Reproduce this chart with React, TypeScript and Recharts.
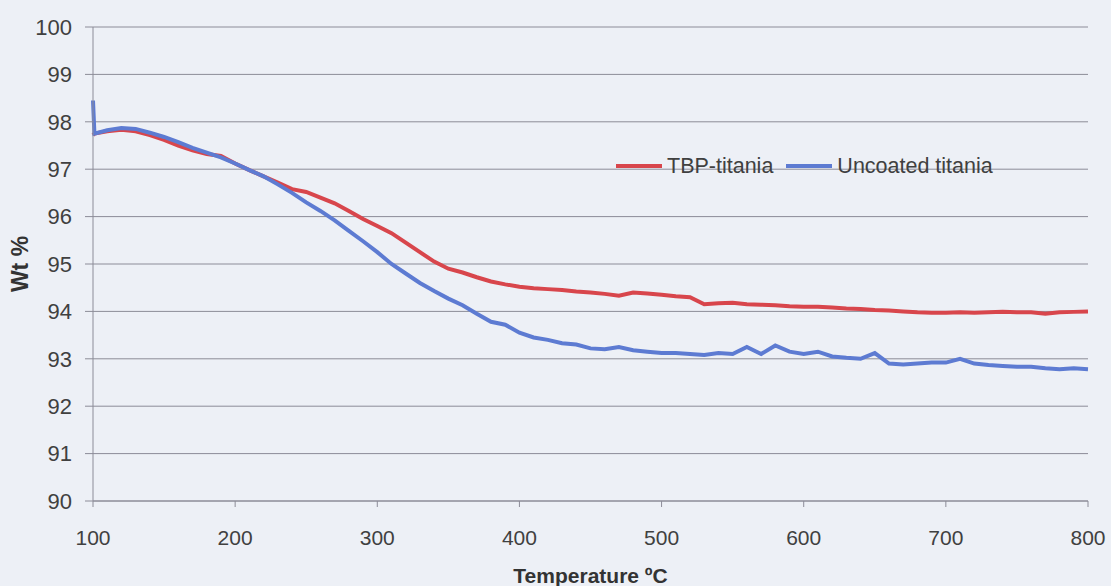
import { LineChart, Line, XAxis, YAxis, CartesianGrid } from 'recharts'

// readings taken off the TGA curves
const temps = [
  100, 101, 110, 120, 130, 140, 150, 160, 170, 180, 190, 200, 210, 220, 230, 240, 250, 260, 270, 280, 290,
  300, 310, 320, 330, 340, 350, 360, 370, 380, 390, 400, 410, 420, 430, 440, 450, 460, 470, 480, 490,
  500, 510, 520, 530, 540, 550, 560, 570, 580, 590, 600, 610, 620, 630, 640, 650, 660, 670, 680, 690,
  700, 710, 720, 730, 740, 750, 760, 770, 780, 790, 800,
]

const tbpTitania = [
  97.72, 97.75, 97.8, 97.83, 97.8, 97.72, 97.62, 97.5, 97.4, 97.32, 97.28, 97.12, 96.98, 96.85, 96.72, 96.58, 96.52, 96.4, 96.28, 96.12, 95.95,
  95.8, 95.65, 95.45, 95.25, 95.05, 94.9, 94.82, 94.72, 94.63, 94.57, 94.52, 94.49, 94.47, 94.45, 94.42, 94.4, 94.37, 94.33, 94.4, 94.38,
  94.35, 94.32, 94.3, 94.15, 94.17, 94.18, 94.15, 94.14, 94.13, 94.11, 94.1, 94.1, 94.08, 94.06, 94.05, 94.03, 94.02, 94.0, 93.98, 93.97,
  93.97, 93.98, 93.97, 93.98, 93.99, 93.98, 93.98, 93.95, 93.98, 93.99, 94.0,
]

const uncoatedTitania = [
  98.45, 97.75, 97.82, 97.87, 97.85, 97.77, 97.68, 97.57, 97.45, 97.35, 97.25, 97.12, 96.98, 96.85, 96.68, 96.5, 96.3, 96.12, 95.92, 95.7, 95.48,
  95.25, 95.0, 94.8, 94.6, 94.43, 94.27, 94.13, 93.95, 93.78, 93.72, 93.55, 93.45, 93.4, 93.33, 93.3, 93.22, 93.2, 93.25, 93.18, 93.15,
  93.12, 93.12, 93.1, 93.08, 93.12, 93.1, 93.25, 93.1, 93.28, 93.15, 93.1, 93.15, 93.05, 93.02, 93.0, 93.12, 92.9, 92.88, 92.9, 92.92,
  92.92, 93.0, 92.9, 92.87, 92.85, 92.83, 92.83, 92.8, 92.78, 92.8, 92.78,
]

const xTicks = [100, 200, 300, 400, 500, 600, 700, 800]
const yTicks = [90, 91, 92, 93, 94, 95, 96, 97, 98, 99, 100]

const data = temps.map((t, i) => ({ temp: t, tbp: tbpTitania[i], uncoated: uncoatedTitania[i] }))

const font = '"Liberation Sans", Arial, sans-serif'
const RED = '#d8464c'
const BLUE = '#5d7bd2'
const GRID = '#8c8c98'

function LegendBox() {
  const item = (color: string, text: string, gap: number) => (
    <span style={{ display: 'inline-flex', alignItems: 'center', marginRight: gap }}>
      <span style={{ display: 'inline-block', width: 46, height: 4, background: color, marginRight: 5 }} />
      <span>{text}</span>
    </span>
  )
  return (
    <div
      style={{
        position: 'absolute', left: 616, top: 153, height: 26, display: 'flex', alignItems: 'center',
        fontFamily: font, fontSize: 21.5, color: '#404040', whiteSpace: 'nowrap',
      }}
    >
      {item(RED, 'TBP-titania', 13)}
      {item(BLUE, 'Uncoated titania', 0)}
    </div>
  )
}

export default function App() {
  return (
    <div style={{ position: 'absolute', left: 0, top: 0, width: 1111, height: 586, background: '#edf0f6' }}>
      <LineChart width={1111} height={586} data={data} margin={{ top: 27, right: 23, bottom: 0, left: 0 }}>
        <CartesianGrid horizontal vertical={false} stroke={GRID} strokeWidth={1} />
        <XAxis
          dataKey="temp"
          type="number"
          domain={[100, 800]}
          ticks={xTicks}
          height={85}
          stroke={GRID}
          tickSize={6}
          tickMargin={23}
          tick={{ fill: '#404040', fontSize: 21, fontFamily: font }}
          label={{ value: 'Temperature ºC', position: 'insideBottom', offset: 3, style: { fill: '#333', fontSize: 21, fontWeight: 'bold', fontFamily: font } }}
        />
        <YAxis
          type="number"
          domain={[90, 100]}
          ticks={yTicks}
          width={93}
          stroke={GRID}
          tickSize={8}
          tickMargin={13}
          tick={{ fill: '#404040', fontSize: 22, fontFamily: font }}
          label={{ value: 'Wt %', angle: -90, position: 'insideLeft', offset: 20, style: { textAnchor: 'middle', fill: '#333', fontSize: 23, fontWeight: 'bold', fontFamily: font } }}
        />
        <Line dataKey="tbp" name="TBP-titania" stroke={RED} strokeWidth={4} dot={false} type="linear" isAnimationActive={false} />
        <Line dataKey="uncoated" name="Uncoated titania" stroke={BLUE} strokeWidth={4} dot={false} type="linear" isAnimationActive={false} />
      </LineChart>
      <LegendBox />
    </div>
  )
}
